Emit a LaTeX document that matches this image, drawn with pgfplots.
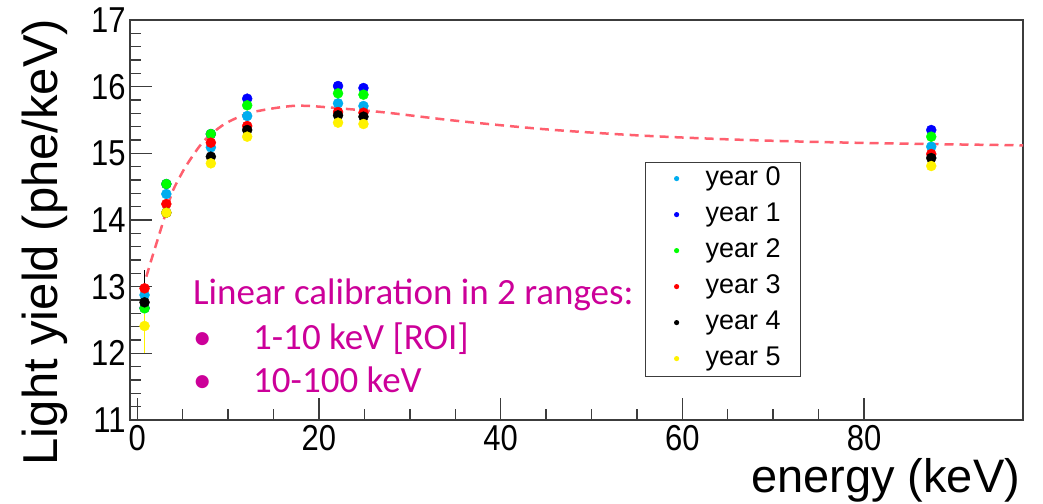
\documentclass[border=0pt]{standalone}
\usepackage{fontspec}
\setmainfont{Liberation Sans}
\newfontfamily\calib{Carlito}
\usepackage{pgfplots}
\pgfplotsset{compat=1.18}
\definecolor{fitred}{RGB}{255,95,110}
\definecolor{note}{RGB}{204,0,153}
\definecolor{frame}{RGB}{60,60,60}

\begin{document}
\begin{tikzpicture}[x=1pt,y=1pt]
\useasboundingbox (0,0) rectangle (1043,503);
\begin{axis}[
  at={(130pt,83pt)}, anchor=south west,
  scale only axis, width=893pt, height=400pt,
  xmin=-0.8, xmax=97.5, ymin=11, ymax=17,
  xtick={0,20,...,80}, ytick={11,...,17},
  minor x tick num=3, minor y tick num=4,
  xtick pos=bottom, ytick pos=left, tick align=inside,
  major tick length=22pt, minor tick length=11pt,
  axis line style={frame, line width=1.6pt},
  tick style={frame, line width=1.4pt},
  /pgf/number format/assume math mode=true,
  tick label style={font=\fontsize{36}{40}\selectfont, xscale=0.86, inner sep=0pt},
  xticklabel style={yshift=-5pt},
  yticklabel style={xshift=-5pt},
  xlabel={energy (keV)}, ylabel={Light yield (phe/keV)},
  xlabel style={at={(axis description cs:0.997,-0.095)}, anchor=north east,
    font=\fontsize{47}{56}\selectfont, inner sep=0pt},
  ylabel style={at={(axis description cs:-0.095,0.445)}, anchor=center,
    font=\fontsize{49}{58}\selectfont, inner sep=0pt},
  legend style={at={(rel axis cs:0.5767,0.645)}, anchor=north west,
    draw=frame, line width=1.2pt, inner xsep=16pt, inner ysep=4pt,
    row sep=10pt, column sep=10pt,
    font=\fontsize{27}{32}\selectfont,
    nodes={inner xsep=4pt, inner ysep=0pt, text height=19pt, text depth=7pt}},
  legend cell align=left,
  legend image code/.code={\path[draw=none, fill=none] (0pt,0pt) -- (30pt,0pt);
    \fill[draw=none] (15pt,1pt) circle (2.6pt);},
]

% fitted light-yield curve
\addplot[fitred, line width=2.5pt, dash pattern=on 9pt off 6pt, smooth, tension=0.5, forget plot]
  coordinates {(1.0,13.15) (1.5,13.38) (2.0,13.6) (2.5,13.82) (3.0,14.04)
    (3.8,14.4) (4.7,14.65) (5.6,14.86) (7.3,15.18) (9.5,15.43) (12,15.59)
    (14.3,15.66) (17,15.71) (19,15.71) (22.7,15.67) (27.5,15.61) (35,15.49)
    (45,15.36) (55,15.27) (65,15.21) (75,15.17) (87,15.14) (97.5,15.12)};

\addplot[only marks, mark=*, mark size=5pt, color=cyan]
  coordinates {(0.8,12.875) (3.2,14.39) (8.1,15.09) (12.1,15.56) (22.1,15.75) (24.9,15.71) (87.4,15.10)};
\addlegendentry{year 0}
\addplot[only marks, mark=*, mark size=5pt, color=blue]
  coordinates {(0.8,12.68) (3.2,14.54) (8.1,15.29) (12.1,15.82) (22.1,16.01) (24.9,15.98) (87.4,15.35)};
\addlegendentry{year 1}
\addplot[only marks, mark=*, mark size=5pt, color=green]
  coordinates {(0.8,12.675) (3.2,14.54) (8.1,15.29) (12.1,15.72) (22.1,15.90) (24.9,15.88) (87.4,15.25)};
\addlegendentry{year 2}
\addplot[only marks, mark=*, mark size=5pt, color=red,
  error bars/.cd, y dir=plus, y explicit, error mark=none,
  error bar style={black, line width=1.5pt}]
  coordinates {(0.8,12.975) +- (0,0.275) (3.2,14.24) (8.1,15.16) (12.1,15.41) (22.1,15.62) (24.9,15.61) (87.4,14.99)};
\addlegendentry{year 3}
\addplot[only marks, mark=*, mark size=5pt, color=black]
  coordinates {(0.8,12.765) (3.2,14.11) (8.1,14.95) (12.1,15.35) (22.1,15.57) (24.9,15.55) (87.4,14.93)};
\addlegendentry{year 4}
\addplot[only marks, mark=*, mark size=5pt, color=yellow,
  error bars/.cd, y dir=both, y explicit, error mark=none,
  error bar style={yellow, line width=1.5pt}]
  coordinates {(0.8,12.41) += (0,0.18) -= (0,0.41) (3.2,14.11) (8.1,14.85) (12.1,15.25) (22.1,15.46) (24.9,15.44) (87.4,14.81)};
\addlegendentry{year 5}

% calibration note
\node[anchor=base west, inner sep=0pt, text=note, font=\calib\fontsize{37}{44}\selectfont]
  at (rel axis cs:0.0705,0.2875) {Linear calibration in 2 ranges:};
\node[anchor=base west, inner sep=0pt, text=note, font=\calib\fontsize{37}{44}\selectfont]
  at (rel axis cs:0.0705,0.175) {•};
\node[anchor=base west, inner sep=0pt, text=note, font=\calib\fontsize{37}{44}\selectfont]
  at (rel axis cs:0.1377,0.175) {1-10 keV [ROI]};
\node[anchor=base west, inner sep=0pt, text=note, font=\calib\fontsize{37}{44}\selectfont]
  at (rel axis cs:0.0705,0.0675) {•};
\node[anchor=base west, inner sep=0pt, text=note, font=\calib\fontsize{37}{44}\selectfont]
  at (rel axis cs:0.1377,0.0675) {10-100 keV};
\end{axis}
\end{tikzpicture}
\end{document}
